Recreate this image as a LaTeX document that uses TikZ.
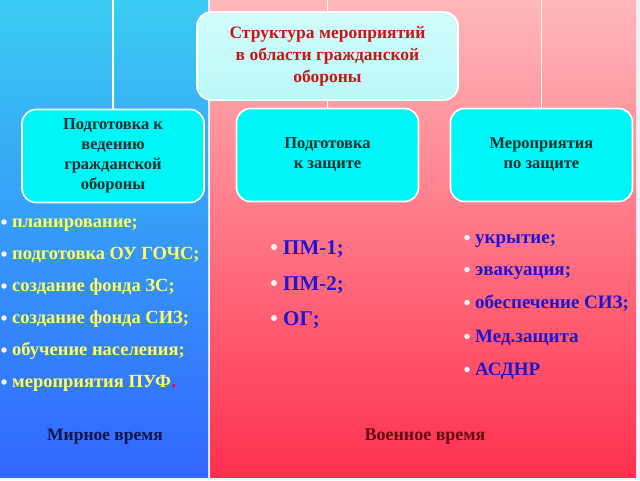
\documentclass[tikz,border=0pt]{standalone}
\usepackage{fontspec}
\setmainfont{Liberation Serif}
\definecolor{lefttop}{RGB}{58,204,242}
\definecolor{leftbot}{RGB}{50,102,255}
\definecolor{righttop}{RGB}{255,184,186}
\definecolor{rightbot}{RGB}{255,48,78}
\definecolor{boxcyan}{RGB}{0,246,246}
\definecolor{boxtop}{RGB}{210,252,252}
\definecolor{boxbot}{RGB}{188,248,248}
\definecolor{titlered}{RGB}{204,20,20}
\definecolor{boxtext}{RGB}{16,48,48}
\definecolor{yel}{RGB}{255,255,96}
\definecolor{blu}{RGB}{30,20,210}
\definecolor{peacec}{RGB}{16,20,70}
\definecolor{warc}{RGB}{100,10,20}
\definecolor{bgc}{RGB}{236,240,250}
\definecolor{bulc}{RGB}{250,245,245}
\tikzset{
  cbox/.style={draw=white, line width=1.6pt, rounded corners=14pt, fill=boxcyan,
    minimum width=182pt, minimum height=93pt, align=center, inner sep=2pt,
    font=\fontsize{16.5}{20}\selectfont\bfseries, text=boxtext},
  tbox/.style={draw=white, line width=1.6pt, rounded corners=14pt,
    top color=boxtop, bottom color=boxbot,
    minimum width=261pt, minimum height=88pt, align=center, inner sep=2pt,
    font=\fontsize{17.5}{22}\selectfont\bfseries, text=titlered},
  link/.style={draw=white, line width=1.3pt},
  litem/.style={anchor=base west, inner sep=0pt, font=\fontsize{18.5}{22}\selectfont\bfseries, text=yel},
  mitem/.style={anchor=base west, inner sep=0pt, font=\fontsize{21}{24}\selectfont\bfseries, text=blu},
  ritem/.style={anchor=base west, inner sep=0pt, font=\fontsize{19}{22}\selectfont\bfseries, text=blu},
  bul/.style={circle, fill=bulc, inner sep=0pt, minimum size=5.5pt},
  period/.style={anchor=base, inner sep=0pt, font=\fontsize{18.5}{22}\selectfont\bfseries}
}
\begin{document}
\begin{tikzpicture}[x=1pt,y=-1pt]
\useasboundingbox (0,0) rectangle (640,480);
\fill[bgc] (0,0) rectangle (640,480);
\shade[top color=lefttop, bottom color=leftbot] (0,0) rectangle (208,477);
\shade[top color=righttop, bottom color=rightbot] (210,0) rectangle (636,477);

\node[tbox] (t) at (327.5,56) {Структура мероприятий\\в области гражданской\\обороны};
\node[cbox] (a) at (113,156) {Подготовка к\\ведению\\гражданской\\обороны};
\node[cbox] (b) at (327.5,155) {Подготовка\\к защите};
\node[cbox] (c) at (541.5,155) {Мероприятия\\по защите};

\coordinate (ta) at (113,0);
\coordinate (tt) at (327.5,0);
\coordinate (tc) at (541.5,0);
\draw[link] (ta) -- (a.north);
\draw[link] (tt) -- (t.north);
\draw[link] (t.south) -- (b.north);
\draw[link] (tc) -- (c.north);

% left list
\foreach \y/\txt [count=\i] in {227/{планирование;},259/{подготовка ОУ ГОЧС;},291/{создание фонда ЗС;},323/{создание фонда СИЗ;},355/{обучение населения;},387/{мероприятия ПУФ}}{
  \node[bul] (lb\i) at (4,\y-5) {};
  \node[litem] (li\i) at (12,\y) {\txt};
}
\node[period, text=red, anchor=base west] (lp) at (li6.base east) {.};

% middle list
\foreach \y/\txt [count=\i] in {254/{ПМ-1;},290/{ПМ-2;},325/{ОГ;}}{
  \node[bul, minimum size=6pt] (mb\i) at (274,\y-7) {};
  \node[mitem] (mi\i) at (283,\y) {\txt};
}

% right list
\foreach \y/\txt [count=\i] in {243/{укрытие;},275/{эвакуация;},308/{обеспечение СИЗ;},342/{Мед.защита},375/{АСДНР}}{
  \node[bul] (rb\i) at (467,\y-5.5) {};
  \node[ritem] (ri\i) at (475,\y) {\txt};
}

\node[font=\fontsize{17.5}{20}\selectfont\bfseries, text=peacec] (peace) at (105,437) {Мирное время};
\node[font=\fontsize{18}{20}\selectfont\bfseries, text=warc] (war) at (425,437) {Военное время};
\end{tikzpicture}
\end{document}
